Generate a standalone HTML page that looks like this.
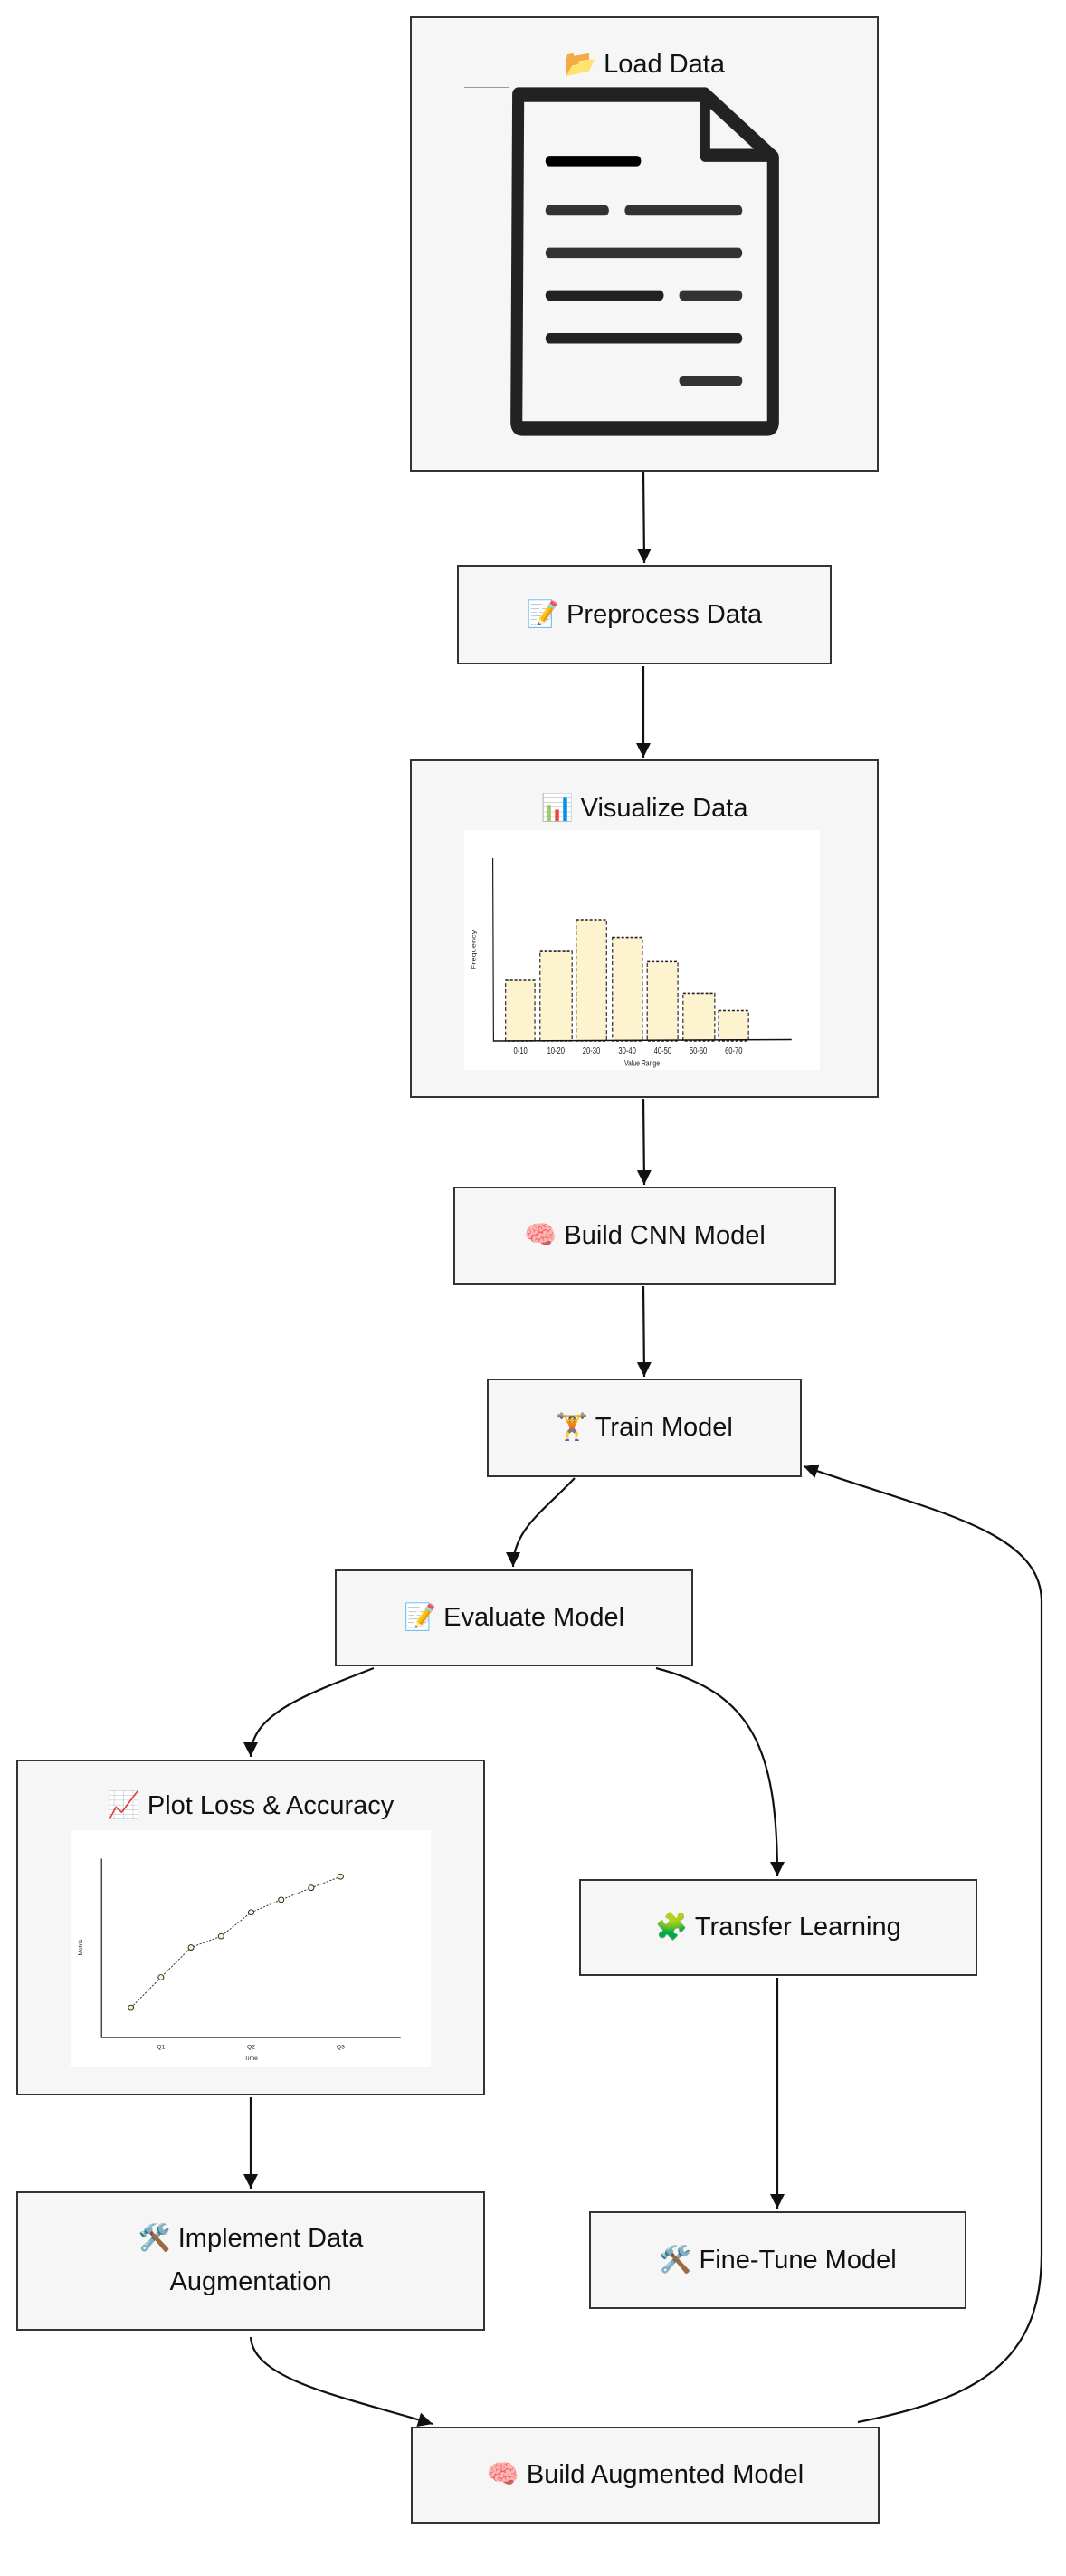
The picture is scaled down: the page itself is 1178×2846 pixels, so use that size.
<!DOCTYPE html>
<html><head><meta charset="utf-8"><style>
html,body{margin:0;padding:0;background:#fff;}
body{width:1178px;height:2846px;position:relative;overflow:hidden;font-family:"Liberation Sans","DejaVu Sans",sans-serif;}
.b{position:absolute;box-sizing:border-box;border:2.5px solid #333;background:#f6f6f6;color:#111;font-size:29px;text-align:center;display:flex;align-items:center;justify-content:center;line-height:1.6;}
.t{position:absolute;left:0;right:0;text-align:center;font-size:29px;color:#111;}
svg{position:absolute;left:0;top:0;}
</style></head><body>

<div class="b" style="left:453px;top:18px;width:518px;height:503px;"></div>
<div class="t" style="left:453px;width:518px;top:54px;">📂 Load Data</div>
<svg style="left:563px;top:95px" width="299" height="388" viewBox="425 200 775 810" preserveAspectRatio="none">
<path d="M450,220 L985,220 L1180,365 L1180,975 Q1180,990 1165,990 L460,990 Q445,990 445,975 Z" fill="none" stroke="#222" stroke-width="34" stroke-linejoin="round"/>
<path d="M985,220 L985,360 L1180,360" fill="none" stroke="#222" stroke-width="30" stroke-linejoin="round"/>
<g stroke="#222" stroke-width="24" stroke-linecap="round">
<line x1="540" y1="373" x2="790" y2="373" stroke="#000"/>
<line x1="540" y1="487" x2="698" y2="487" stroke="#333"/>
<line x1="767" y1="487" x2="1080" y2="487" stroke="#333"/>
<line x1="540" y1="585" x2="1080" y2="585" stroke="#333"/>
<line x1="540" y1="683" x2="855" y2="683"/>
<line x1="923" y1="683" x2="1080" y2="683" stroke="#333"/>
<line x1="540" y1="782" x2="1080" y2="782"/>
<line x1="923" y1="880" x2="1080" y2="880" stroke="#333"/>
</g></svg>
<div style="position:absolute;left:513px;top:96px;width:49px;height:1px;background:#999"></div>

<div class="b" style="left:505px;top:624px;width:414px;height:110px;">📝 Preprocess Data</div>

<div class="b" style="left:453px;top:839px;width:518px;height:374px;"></div>
<div class="t" style="left:453px;width:518px;top:876px;">📊 Visualize Data</div>
<svg style="left:513px;top:917px" width="393" height="265" viewBox="295 183 1032 514" preserveAspectRatio="none">
<rect x="295" y="183" width="1032" height="514" fill="#fff"/>
<g fill="#fdf3cf" stroke="#222" stroke-width="3" stroke-dasharray="8,5">
<rect x="415" y="505" width="85" height="130"/>
<rect x="515" y="443" width="93" height="192"/>
<rect x="620" y="375" width="88" height="260"/>
<rect x="725" y="413" width="87" height="222"/>
<rect x="826" y="465" width="89" height="170"/>
<rect x="930" y="533" width="92" height="102"/>
<rect x="1033" y="570" width="87" height="65"/>
</g>
<path d="M378,243 L380,635 L1245,632" fill="none" stroke="#111" stroke-width="3"/>
<g font-size="20" text-anchor="middle" fill="#222" font-family="Liberation Sans,sans-serif">
<text x="458" y="662">0-10</text><text x="561" y="662">10-20</text><text x="664" y="662">20-30</text><text x="768" y="662">30-40</text><text x="871" y="662">40-50</text><text x="974" y="662">50-60</text><text x="1077" y="662">60-70</text>
<text x="811" y="688" font-size="18">Value Range</text>
<text x="0" y="0" font-size="18" transform="translate(328,440) rotate(-90)">Frequency</text>
</g></svg>

<div class="b" style="left:501px;top:1311px;width:423px;height:109px;">🧠 Build CNN Model</div>
<div class="b" style="left:538px;top:1523px;width:348px;height:109px;">🏋️ Train Model</div>
<div class="b" style="left:370px;top:1734px;width:396px;height:107px;">📝 Evaluate Model</div>

<div class="b" style="left:18px;top:1944px;width:518px;height:371px;"></div>
<div class="t" style="left:18px;width:518px;top:1978px;">📈 Plot Loss &amp; Accuracy</div>
<svg style="left:79px;top:2022px" width="397" height="262" viewBox="104 445 526 358" preserveAspectRatio="none">
<rect x="104" y="445" width="526" height="358" fill="#fff"/>
<path d="M148,488 L148,758 L586,758" fill="none" stroke="#111" stroke-width="1.5"/>
<polyline points="191,713 235,667 279,622 323,605 367,569 411,550 455,532 498,515" fill="none" stroke="#222" stroke-width="1.2" stroke-dasharray="3,2"/>
<g fill="#fdf3cf" stroke="#222" stroke-width="1.3">
<circle cx="191" cy="713" r="4"/><circle cx="235" cy="667" r="4"/><circle cx="279" cy="622" r="4"/><circle cx="323" cy="605" r="4"/><circle cx="367" cy="569" r="4"/><circle cx="411" cy="550" r="4"/><circle cx="455" cy="532" r="4"/><circle cx="498" cy="515" r="4"/>
</g>
<g font-size="9" text-anchor="middle" fill="#222" font-family="Liberation Sans,sans-serif">
<text x="235" y="775">Q1</text><text x="367" y="775">Q2</text><text x="498" y="775">Q3</text>
<text x="367" y="792">Time</text>
<text transform="translate(120,622) rotate(-90)">Metric</text>
</g></svg>

<div class="b" style="left:640px;top:2076px;width:440px;height:107px;">🧩 Transfer Learning</div>
<div class="b" style="left:18px;top:2421px;width:518px;height:154px;line-height:1.65;">🛠️ Implement Data<br>Augmentation</div>
<div class="b" style="left:651px;top:2443px;width:417px;height:108px;">🛠️ Fine-Tune Model</div>
<div class="b" style="left:454px;top:2681px;width:518px;height:107px;">🧠 Build Augmented Model</div>

<svg width="1178" height="2846" viewBox="0 0 1178 2846">
<defs>
<marker id="A" viewBox="0 0 10 10" markerWidth="16" markerHeight="16" refX="10" refY="5" orient="auto" markerUnits="userSpaceOnUse"><path d="M0,0 L10,5 L0,10 Z" fill="#111"/></marker></defs>
<g fill="none" stroke="#111" stroke-width="2.2" marker-end="url(#A)">
<path d="M711,522 L712,622"/>
<path d="M711,736 L711,837"/>
<path d="M711,1214 L712,1309"/>
<path d="M711,1421 L712,1521"/>
<path d="M635,1633 C600,1670 567,1690 567,1731"/>
<path d="M413,1843 C330,1875 277,1895 277,1941"/>
<path d="M725,1843 C830,1870 859,1930 859,2073"/>
<path d="M277,2317 L277,2418"/>
<path d="M859,2185 L859,2440"/>
<path d="M277,2582 C280,2630 380,2648 478,2678"/>
<path d="M948,2676 C1080,2650 1151,2610 1151,2490 L1151,1770 C1151,1690 1030,1670 888,1620"/>
</g></svg>
</body></html>
